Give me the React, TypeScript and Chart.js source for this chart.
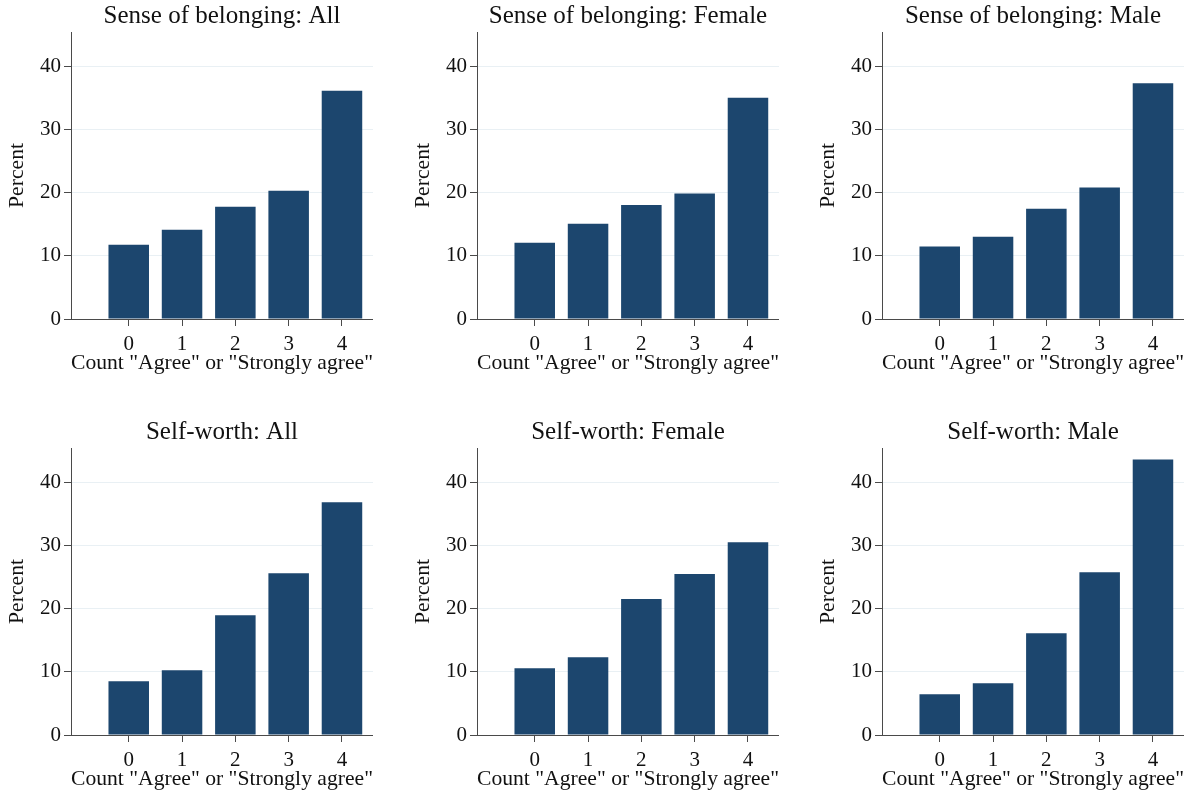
import { useEffect, useRef } from 'react';
import { Chart, registerables } from 'chart.js';

Chart.register(...registerables);

// Number of statements answered "Agree" or "Strongly agree"
const counts = [0, 1, 2, 3, 4];
const yTickValues = [0, 10, 20, 30, 40];

// Percent of respondents at each count
const belongingAll = [11.75, 14.1, 17.75, 20.3, 36.1];
const belongingFemale = [12.05, 15.05, 18.05, 19.85, 35.0];
const belongingMale = [11.45, 13.0, 17.45, 20.8, 37.3];
const selfWorthAll = [8.5, 10.25, 18.95, 25.6, 36.8];
const selfWorthFemale = [10.55, 12.3, 21.5, 25.45, 30.5];
const selfWorthMale = [6.45, 8.2, 16.1, 25.75, 43.6];

const panelTitles = [
  'Sense of belonging: All',
  'Sense of belonging: Female',
  'Sense of belonging: Male',
  'Self-worth: All',
  'Self-worth: Female',
  'Self-worth: Male',
];
const panelValues = [
  belongingAll,
  belongingFemale,
  belongingMale,
  selfWorthAll,
  selfWorthFemale,
  selfWorthMale,
];

const xTitle = 'Count "Agree" or "Strongly agree"';
const yTitle = 'Percent';

const FONT = '"Liberation Serif", "Times New Roman", Times, serif';
const BAR = '#1c466e';
const AXIS = '#4a4a4a';
const GRID = '#e9f0f4';
const TEXT = '#111111';

// Column / row placement of each panel's canvas
const colLeft = [0, 406, 811];
const rowTop = [0, 416];
const CANVAS_W = 373;
const CANVAS_H = 379;
const Y_AXIS_W = 71;
const X_AXIS_H = 60;

function Panel({ title, values, left, top }: { title: string; values: number[]; left: number; top: number }) {
  const ref = useRef<HTMLCanvasElement | null>(null);

  useEffect(() => {
    if (!ref.current) return;
    const chart = new Chart(ref.current, {
      type: 'bar',
      data: {
        datasets: [
          {
            data: counts.map((c, i) => ({ x: c, y: values[i] })),
            backgroundColor: BAR,
            borderWidth: 0,
            barPercentage: 0.76,
            categoryPercentage: 1,
          },
        ],
      },
      options: {
        responsive: false,
        animation: false,
        devicePixelRatio: 1,
        layout: { padding: 0 },
        plugins: {
          legend: { display: false },
          tooltip: { enabled: false },
          title: {
            display: true,
            text: title,
            fullSize: false,
            color: TEXT,
            font: { family: FONT, size: 25, weight: 'normal' },
            padding: { top: 1, bottom: 1 },
          },
        },
        scales: {
          x: {
            type: 'linear',
            min: -1.083,
            max: 4.582,
            offset: false,
            afterBuildTicks: (s: any) => {
              s.ticks = counts.map((v) => ({ value: v }));
            },
            afterFit: (s: any) => {
              s.height = X_AXIS_H;
            },
            grid: {
              drawOnChartArea: false,
              drawTicks: true,
              tickLength: 7,
              tickColor: AXIS,
              offset: false,
            },
            border: { color: AXIS, width: 1 },
            ticks: {
              color: TEXT,
              font: { family: FONT, size: 21 },
              padding: 6,
              maxRotation: 0,
              autoSkip: false,
            },
            title: {
              display: true,
              text: xTitle,
              color: TEXT,
              font: { family: FONT, size: 21.7 },
              padding: { top: 0, bottom: 3 },
            },
          },
          y: {
            type: 'linear',
            min: 0,
            max: 45.4,
            afterBuildTicks: (s: any) => {
              s.ticks = yTickValues.map((v) => ({ value: v }));
            },
            afterFit: (s: any) => {
              s.width = Y_AXIS_W;
            },
            grid: {
              color: GRID,
              tickColor: AXIS,
              tickLength: 7,
              lineWidth: 1,
            },
            border: { color: AXIS, width: 1 },
            ticks: {
              color: TEXT,
              font: { family: FONT, size: 21 },
              padding: 3,
            },
            title: {
              display: true,
              text: yTitle,
              color: TEXT,
              font: { family: FONT, size: 21.7 },
              padding: { top: 4, bottom: 0 },
            },
          },
        },
      },
    });
    return () => chart.destroy();
  }, [title, values]);

  return (
    <canvas
      ref={ref}
      width={CANVAS_W}
      height={CANVAS_H}
      style={{ position: 'absolute', left, top, width: CANVAS_W, height: CANVAS_H }}
    />
  );
}

export default function App() {
  return (
    <div
      style={{
        position: 'fixed',
        left: 0,
        top: 0,
        width: 1191,
        height: 792,
        background: '#ffffff',
        overflow: 'hidden',
      }}
    >
      {panelTitles.map((t, i) => (
        <Panel
          key={t}
          title={t}
          values={panelValues[i]}
          left={colLeft[i % 3]}
          top={rowTop[Math.floor(i / 3)]}
        />
      ))}
    </div>
  );
}
